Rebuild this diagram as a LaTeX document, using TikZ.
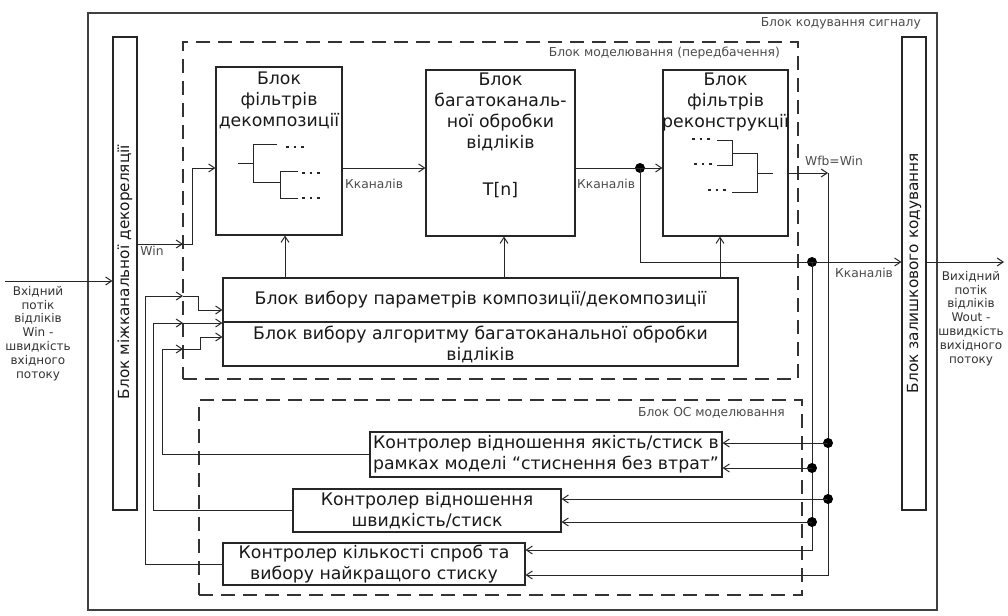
\documentclass[tikz,border=0pt]{standalone}
\usepackage{fontspec}
\setmainfont{DejaVu Sans}
\usetikzlibrary{arrows.meta}
\begin{document}
\begin{tikzpicture}[x=1pt,y=-1pt,
  box/.style={draw=black!85, line width=1.1pt, fill=white, inner sep=0pt},
  frame/.style={draw=black!75, line width=1.3pt, inner sep=0pt},
  dbox/.style={draw=black!80, line width=1.1pt, dash pattern=on 14pt off 8pt, inner sep=0pt},
  ln/.style={draw=black!85, line width=1pt},
  arr/.style={ln, -{Straight Barb[length=6pt,width=8pt]}},
  jdot/.style={circle, fill=black, inner sep=0pt, minimum size=10pt},
  bigtxt/.style={font=\fontsize{17.3}{21}\selectfont, align=center, text=black!90, inner sep=0pt},
  vtxt/.style={font=\fontsize{15.3}{18}\selectfont, text=black!90, inner sep=0pt, rotate=90},
  lbl/.style={font=\fontsize{12.3}{14}\selectfont, text=black!70, inner sep=1pt},
  iotxt/.style={font=\fontsize{12}{13.8}\selectfont, align=center, text=black!80, inner sep=0pt},
  dots/.style={draw=black!85, line width=1.3pt, dash pattern=on 2.5pt off 5pt},
]
\useasboundingbox (0,0) rectangle (1008,615);
\fill[white] (0,0) rectangle (1008,615);

% outer frame
\node[frame, minimum width=849pt, minimum height=597pt] (outer) at (512.5,311.5) {};
\node[lbl, anchor=north east] (outerlbl) at (922,16) {Блок кодування сигналу};

% dashed groups
\node[dbox, minimum width=615pt, minimum height=337pt] (model) at (490.5,210.5) {};
\node[lbl, anchor=north east] (modellbl) at (781,46) {Блок моделювання (передбачення)};
\node[dbox, minimum width=603pt, minimum height=195pt] (oc) at (500.5,497.5) {};
\node[lbl, anchor=north east] (oclbl) at (786,406) {Блок ОС моделювання};

% vertical bars
\node[box, minimum width=24pt, minimum height=473pt] (lbar) at (125,273.5) {};
\node[vtxt] (lbartxt) at (125,272) {Блок міжканальної декореляції};
\node[box, minimum width=24pt, minimum height=473pt] (rbar) at (914,273.5) {};
\node[vtxt] (rbartxt) at (914,273) {Блок залишкового кодування};

% top blocks
\node[box, minimum width=126pt, minimum height=168pt] (dec) at (279,151) {};
\node[bigtxt, anchor=north] (dectxt) at (279,72) {Блок\\фільтрів\\декомпозиції};
\node[box, minimum width=149pt, minimum height=166pt] (multi) at (500.5,153) {};
\node[bigtxt, anchor=north] (multitxt) at (500.5,73) {Блок\\багатоканаль-\\ної обробки\\відліків};
\node[bigtxt] (tn) at (500.5,190) {T[n]};
\node[box, minimum width=125pt, minimum height=166pt] (rec) at (725.5,153) {};
\node[bigtxt, anchor=north] (rectxt) at (725.5,73) {Блок\\фільтрів\\реконструкції};

% decomposition icon
\draw[ln] (238,163) -- (253,163);
\draw[ln] (277,144) -- (253,144) -- (253,182) -- (280,182);
\draw[ln] (298,171) -- (280,171) -- (280,198) -- (298,198);
\draw[dots] (286,147) -- (304,147);
\draw[dots] (302,173) -- (320,173);
\draw[dots] (302,198) -- (320,198);

% reconstruction icon
\draw[dots] (692,139) -- (710,139);
\draw[dots] (694,164) -- (712,164);
\draw[dots] (708,190) -- (726,190);
\draw[ln] (717,140) -- (732,140) -- (732,165) -- (717,165);
\draw[ln] (732,153) -- (757,153) -- (757,192) -- (732,192);
\draw[ln] (757,173) -- (773,173);

% selection blocks
\node[box, minimum width=515pt, minimum height=44pt, bigtxt] (p1) at (480.5,300) {Блок вибору параметрів композиції/декомпозиції};
\node[box, minimum width=515pt, minimum height=44pt, bigtxt] (p2) at (480.5,344) {Блок вибору алгоритму багатоканальної обробки\\відліків};

% controllers
\node[box, minimum width=352pt, minimum height=45pt, bigtxt] (c1) at (546,454.5) {Контролер відношення якість/стиск в\\рамках моделі “стиснення без втрат”};
\node[box, minimum width=268pt, minimum height=43pt, bigtxt] (c2) at (427,510.5) {Контролер відношення\\швидкість/стиск};
\node[box, minimum width=302pt, minimum height=42pt, bigtxt] (c3) at (374,564) {Контролер кількості спроб та\\вибору найкращого стиску};

% input / output
\coordinate (inL) at (5,281);
\draw[arr] (inL) -- (lbar.west |- inL);
\node[iotxt, anchor=north] (intxt) at (38,286) {Вхідний\\потік\\відліків\\Win -\\швидкість\\вхідного\\потоку};
\coordinate (outR) at (1004,262);
\draw[arr] (rbar.east |- outR) -- (outR);
\node[iotxt, anchor=north] (outtxt) at (971,271) {Вихідний\\потік\\відліків\\Wout -\\швидкість\\вихідного\\потоку};

% decorrelation -> decomposition
\coordinate (w1) at (183,244);
\draw[arr] (lbar.east |- w1) -- (w1);
\draw[arr] (w1) -- (192,244) -- (192,168) -- (dec.west |- 0,168);
\node[lbl, anchor=north] (winlbl) at (152,245) {Win};

% main chain
\draw[arr] (dec.east |- 0,168) -- (multi.west |- 0,168);
\node[lbl, anchor=north west] (k1) at (344,178) {Кканалів};
\node[jdot] (j1) at (640,168) {};
\draw[arr] (multi.east |- j1) -- (rec.west |- j1);
\node[lbl, anchor=north west] (k2) at (576,178) {Кканалів};
\node[jdot] (j2) at (812,262) {};
\draw[ln] (j1.center) |- (j2.center);
\draw[arr] (j2.center) -- (rbar.west |- j2);
\node[lbl, anchor=north] (k3) at (864,267) {Кканалів};

% feedback of reconstructed signal
\coordinate (fb) at (828,173);
\draw[arr] (rec.east |- fb) -- (fb);
\node[lbl, anchor=south] (wfb) at (834,167) {Wfb=Win};
\draw[arr] (fb) |- (c3.east |- 0,575);
\draw[arr] (j2.center) |- (c3.east |- 0,550);
\node[jdot] (d1) at (828,443) {};
\node[jdot] (d2) at (812,468) {};
\node[jdot] (d3) at (828,499) {};
\node[jdot] (d4) at (812,522) {};
\draw[arr] (d1.center) -- (c1.east |- d1);
\draw[arr] (d2.center) -- (c1.east |- d2);
\draw[arr] (d3.center) -- (c2.east |- d3);
\draw[arr] (d4.center) -- (c2.east |- d4);

% selection -> top blocks
\draw[arr] (p1.north -| 285,0) -- (dec.south -| 285,0);
\draw[arr] (p1.north -| 504,0) -- (multi.south -| 504,0);
\draw[arr] (p1.north -| 720,0) -- (rec.south -| 720,0);

% controllers -> selection blocks
\coordinate (e3) at (183,296);
\draw[arr] (c3.west) -| (145,296) -- (e3);
\draw[arr] (e3) -- (198,296) -- (198,310) -- (p1.west |- 0,310);
\coordinate (e2) at (183,323);
\draw[arr] (c2.west) -| (153,323) -- (e2);
\draw[arr] (e2) -- (p1.west |- e2);
\coordinate (e1) at (183,349);
\draw[arr] (c1.west) -| (162,349) -- (e1);
\draw[arr] (e1) -- (200,349) -- (200,337) -- (p2.west |- 0,337);
\end{tikzpicture}
\end{document}
